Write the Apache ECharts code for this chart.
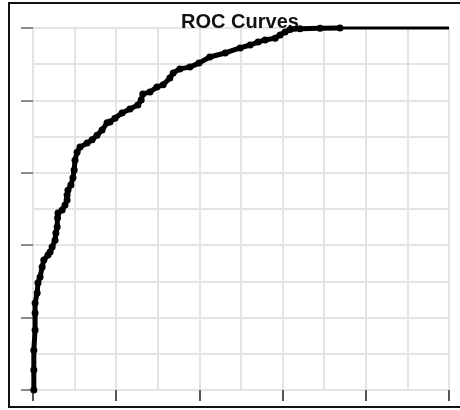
<!DOCTYPE html>
<html>
<head>
<meta charset="utf-8">
<script src="https://cdn.jsdelivr.net/npm/echarts@6/dist/echarts.min.js"></script>
<style>
  html, body { margin: 0; padding: 0; background: #fff; }
  #chart { width: 460px; height: 410px; }
</style>
</head>
<body>
<div id="chart"></div>
<script>
// ROC curve: false positive rate vs. true positive rate
const fpr = [0.002, 0.002, 0.002, 0.005, 0.005, 0.005, 0.010, 0.012, 0.017, 0.022,
             0.026, 0.036, 0.041, 0.046, 0.053, 0.055, 0.058, 0.059, 0.060, 0.070,
             0.077, 0.082, 0.082, 0.084, 0.091, 0.096, 0.099, 0.101, 0.106, 0.113,
             0.130, 0.142, 0.154, 0.166, 0.178, 0.185, 0.197, 0.214, 0.233, 0.252,
             0.260, 0.264, 0.281, 0.298, 0.313, 0.329, 0.337, 0.353, 0.377, 0.399,
             0.425, 0.462, 0.498, 0.522, 0.541, 0.558, 0.582, 0.594, 0.606, 0.618,
             0.642, 0.690, 0.738];
const tpr = [0.000, 0.055, 0.110, 0.166, 0.213, 0.240, 0.268, 0.296, 0.312, 0.340,
             0.359, 0.373, 0.381, 0.395, 0.414, 0.434, 0.450, 0.475, 0.489, 0.497,
             0.511, 0.525, 0.539, 0.552, 0.566, 0.586, 0.608, 0.635, 0.657, 0.671,
             0.682, 0.691, 0.704, 0.718, 0.738, 0.740, 0.751, 0.765, 0.776, 0.787,
             0.801, 0.818, 0.823, 0.837, 0.843, 0.862, 0.876, 0.887, 0.892, 0.903,
             0.920, 0.931, 0.945, 0.953, 0.961, 0.967, 0.972, 0.981, 0.989, 0.996,
             0.998, 0.999, 1.000];
// final flat stretch of the curve out to (1, 1)
const tailFpr = [0.738, 1.000];
const tailTpr = [1.000, 1.000];

const curve = fpr.map((x, i) => [x, tpr[i]]);
const tail = tailFpr.map((x, i) => [x, tailTpr[i]]);

const chart = echarts.init(document.getElementById('chart'), null, { renderer: 'canvas' });

const gridColor = '#e4e4e4';

function axis(tickLen, tickWidth, tickColor) {
  return {
    type: 'value',
    min: 0,
    max: 1,
    interval: 0.2,
    axisLine: { show: false },
    axisLabel: { show: false },
    axisTick: { show: true, length: tickLen, lineStyle: { color: tickColor, width: tickWidth } },
    splitLine: { show: true, lineStyle: { color: gridColor, width: 2 } },
    minorTick: { show: false, splitNumber: 2 },
    minorSplitLine: { show: true, lineStyle: { color: gridColor, width: 2 } }
  };
}

chart.setOption({
  animation: false,
  backgroundColor: '#fff',
  title: {
    text: 'ROC Curves',
    left: 235,
    textAlign: 'center',
    top: 7,
    textStyle: { fontFamily: 'Liberation Sans, Arial, sans-serif', fontWeight: 'bold', fontSize: 20, color: '#111' }
  },
  grid: { left: 33, right: 11, top: 28, bottom: 20 },
  xAxis: axis(11, 2, '#555'),
  yAxis: axis(12, 1.5, '#666'),
  graphic: [{
    type: 'rect',
    shape: { x: 9, y: 3, width: 470, height: 404 },
    style: { fill: 'none', stroke: '#111', lineWidth: 2 },
    z: 100
  }],
  series: [{
    type: 'line',
    data: curve,
    symbol: 'circle',
    symbolSize: 7,
    showSymbol: true,
    clip: false,
    lineStyle: { color: '#000', width: 5 },
    itemStyle: { color: '#000', borderWidth: 0 },
    z: 10
  }, {
    type: 'line',
    data: tail,
    symbol: 'none',
    clip: false,
    lineStyle: { color: '#000', width: 3 },
    z: 9
  }]
});
</script>
</body>
</html>
